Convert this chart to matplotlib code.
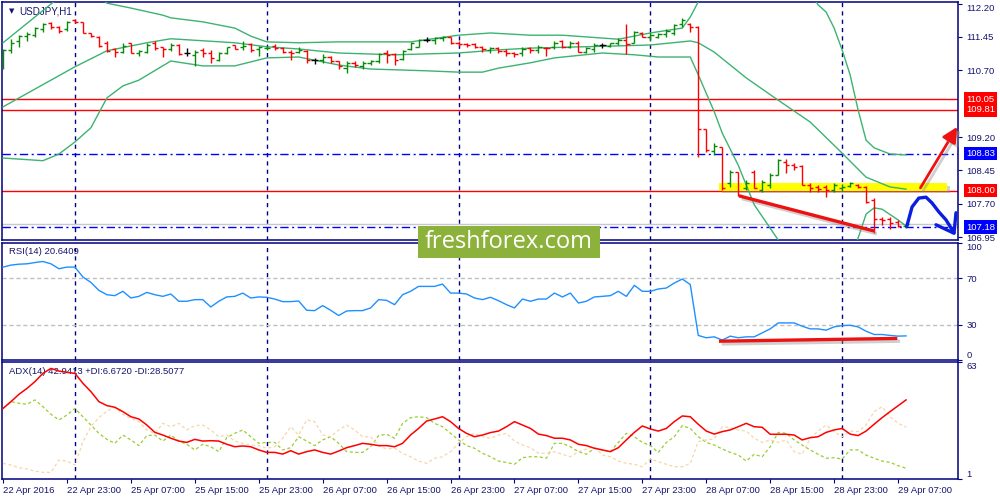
import numpy as np
import matplotlib
matplotlib.use("Agg")
import matplotlib.pyplot as plt
import matplotlib.transforms as mtransforms
import matplotlib.patheffects as pe
from matplotlib.patches import Rectangle

plt.rcParams['font.family'] = ['Liberation Sans', 'DejaVu Sans']

# ---------------- data ----------------
symbol = "USDJPY,H1"
x_label_pos = [0, 8, 16, 24, 32, 40, 48, 56, 64, 72, 80, 88, 96, 104, 112]
x_labels = ["22 Apr 2016", "22 Apr 23:00", "25 Apr 07:00", "25 Apr 15:00", "25 Apr 23:00",
            "26 Apr 07:00", "26 Apr 15:00", "26 Apr 23:00", "27 Apr 07:00", "27 Apr 15:00",
            "27 Apr 23:00", "28 Apr 07:00", "28 Apr 15:00", "28 Apr 23:00", "29 Apr 07:00"]
day_starts = [9, 33, 57, 81, 105]

opens = [111.01, 111.16, 111.35, 111.47, 111.50, 111.64, 111.77, 111.68, 111.62, 111.83,
         111.78, 111.55, 111.46, 111.32, 111.17, 111.12, 111.31, 111.10, 111.12, 111.31,
         111.22, 111.17, 111.27, 111.10, 111.05, 111.16, 111.10, 110.93, 111.08, 111.26,
         111.22, 111.29, 111.17, 111.20, 111.25, 111.20, 111.12, 111.12, 111.14, 110.93,
         110.93, 111.01, 110.90, 110.75, 110.87, 110.80, 110.86, 110.90, 111.08, 111.07,
         110.95, 111.17, 111.23, 111.38, 111.38, 111.42, 111.44, 111.31, 111.29, 111.29,
         111.22, 111.16, 111.20, 111.14, 111.08, 111.08, 111.20, 111.16, 111.21, 111.23,
         111.35, 111.23, 111.32, 111.12, 111.17, 111.27, 111.25, 111.31, 111.38, 111.32,
         111.55, 111.46, 111.46, 111.52, 111.53, 111.74, 111.74, 111.67, 109.38, 108.89,
         108.98, 108.17, 108.42, 108.06, 108.42, 108.01, 108.12, 108.35, 108.64, 108.57,
         108.55, 108.12, 108.08, 108.08, 108.01, 108.06, 108.10, 108.12, 108.08, 107.79,
         107.36, 107.36, 107.29, 107.21]
highs = [111.17, 111.40, 111.50, 111.57, 111.67, 111.77, 111.79, 111.70, 111.82, 111.85,
         111.79, 111.55, 111.47, 111.35, 111.20, 111.31, 111.32, 111.16, 111.31, 111.35,
         111.23, 111.31, 111.29, 111.20, 111.16, 111.20, 111.16, 111.12, 111.23, 111.27,
         111.35, 111.31, 111.25, 111.25, 111.29, 111.23, 111.16, 111.23, 111.16, 110.97,
         111.07, 111.02, 110.92, 110.90, 110.90, 110.90, 110.93, 111.08, 111.16, 111.08,
         111.16, 111.33, 111.40, 111.44, 111.44, 111.47, 111.46, 111.35, 111.31, 111.31,
         111.25, 111.22, 111.22, 111.17, 111.12, 111.23, 111.22, 111.27, 111.22, 111.35,
         111.38, 111.35, 111.35, 111.23, 111.31, 111.32, 111.32, 111.42, 111.74, 111.59,
         111.57, 111.57, 111.55, 111.62, 111.74, 111.87, 111.77, 111.70, 109.38, 109.07,
         108.98, 108.46, 108.42, 108.24, 108.46, 108.24, 108.39, 108.71, 108.71, 108.62,
         108.57, 108.17, 108.12, 108.12, 108.17, 108.15, 108.19, 108.15, 108.10, 107.83,
         107.41, 107.41, 107.34, 107.27]
lows = [110.72, 111.10, 111.23, 111.37, 111.44, 111.57, 111.64, 111.53, 111.59, 111.77,
        111.53, 111.46, 111.23, 111.12, 111.01, 111.10, 111.08, 111.02, 111.08, 111.16,
        111.01, 111.14, 111.05, 111.02, 110.80, 110.99, 110.86, 110.92, 111.07, 111.17,
        111.16, 111.12, 111.02, 111.16, 111.16, 111.10, 110.93, 111.10, 110.86, 110.84,
        110.87, 110.87, 110.72, 110.65, 110.77, 110.72, 110.82, 110.87, 110.86, 110.82,
        110.93, 111.16, 111.22, 111.34, 111.29, 111.37, 111.29, 111.25, 111.23, 111.20,
        111.12, 111.10, 111.10, 111.02, 111.01, 111.02, 111.10, 111.08, 111.02, 111.17,
        111.20, 111.20, 111.12, 111.08, 111.12, 111.20, 111.22, 111.27, 111.07, 111.31,
        111.44, 111.37, 111.42, 111.46, 111.50, 111.68, 111.57, 108.75, 108.87, 108.80,
        108.01, 108.08, 107.88, 108.01, 108.06, 107.97, 108.06, 108.35, 108.39, 108.46,
        108.12, 107.97, 107.97, 107.85, 107.97, 107.99, 108.08, 108.06, 107.72, 107.05,
        107.23, 107.14, 107.18, 107.16]
closes = [111.16, 111.31, 111.47, 111.52, 111.65, 111.74, 111.68, 111.59, 111.79, 111.78,
          111.55, 111.47, 111.25, 111.14, 111.12, 111.25, 111.10, 111.14, 111.27, 111.20,
          111.17, 111.27, 111.07, 111.10, 111.12, 111.08, 110.97, 111.08, 111.22, 111.19,
          111.25, 111.16, 111.22, 111.21, 111.20, 111.12, 111.10, 111.16, 110.93, 110.93,
          111.01, 110.90, 110.80, 110.86, 110.82, 110.86, 110.91, 111.07, 111.05, 110.93,
          111.14, 111.31, 111.38, 111.38, 111.42, 111.44, 111.31, 111.29, 111.27, 111.22,
          111.17, 111.20, 111.14, 111.08, 111.07, 111.17, 111.16, 111.22, 111.20, 111.31,
          111.23, 111.31, 111.12, 111.20, 111.27, 111.27, 111.31, 111.38, 111.29, 111.57,
          111.46, 111.50, 111.52, 111.59, 111.72, 111.83, 111.68, 109.38, 108.90, 109.00,
          108.06, 108.42, 107.90, 108.17, 108.06, 108.19, 108.35, 108.69, 108.57, 108.53,
          108.12, 108.06, 108.03, 108.01, 108.12, 108.08, 108.17, 108.08, 107.74, 107.36,
          107.34, 107.27, 107.21, 107.24]

# Bollinger bands (20) read at selected bars
bb_upper_x = [0, 2, 4, 6, 7, 9, 11, 13, 16, 20, 21, 25, 29, 31, 33, 37, 42, 45, 51, 57, 61, 66, 70,
              77, 81, 85, 86, 87, 88, 90, 93, 97, 100, 101, 102, 103, 104, 105, 106, 107, 108, 109,
              110, 111, 113]
bb_upper = [111.32, 111.61, 111.90, 112.19, 112.33, 112.47, 112.50, 112.21, 112.10, 111.94, 111.88,
            111.79, 111.65, 111.47, 111.34, 111.32, 111.34, 111.34, 111.34, 111.49, 111.54, 111.49,
            111.49, 111.40, 111.54, 111.65, 111.90, 112.24, 112.60, 112.75, 113.00, 113.15, 112.80,
            112.45, 112.17, 112.01, 111.65, 111.16, 110.60, 109.81, 109.13, 108.96, 108.89, 108.82,
            108.80]
bb_mid_x = [0, 9, 13, 18, 21, 29, 33, 37, 42, 49, 57, 62, 66, 77, 81, 86, 87, 89, 93, 97, 101, 105,
            108, 111, 113]
bb_mid = [109.88, 110.78, 111.14, 111.32, 111.41, 111.32, 111.23, 111.18, 111.09, 111.05, 111.09,
          111.16, 111.20, 111.25, 111.27, 111.36, 111.32, 111.11, 110.53, 110.03, 109.54, 108.84,
          108.30, 108.08, 108.03]
bb_low_x = [0, 5, 7, 9, 11, 13, 15, 17, 21, 25, 29, 33, 37, 42, 46, 53, 57, 60, 62, 66, 69, 75, 79,
            82, 86, 87, 89, 90, 92, 94, 97, 99, 101, 103, 105, 106, 107, 108, 109, 110, 112, 113]
bb_low = [108.73, 108.67, 108.82, 109.09, 109.41, 110.08, 110.35, 110.48, 110.91, 110.80, 110.80,
          110.98, 111.00, 110.82, 110.73, 110.69, 110.66, 110.66, 110.75, 110.87, 110.98, 111.09,
          111.05, 111.00, 111.00, 110.60, 109.77, 109.29, 108.57, 107.68, 106.89, 106.40, 106.20,
          106.10, 106.20, 106.44, 106.93, 107.47, 107.61, 107.58, 107.34, 107.20]

rsi = [79.4, 81.1, 81.9, 82.2, 83.3, 84.2, 82.2, 78.0, 79.4, 79.4,
       70.9, 66.3, 59.5, 55.8, 55.0, 58.7, 53.0, 54.4, 57.8, 55.8,
       54.4, 56.4, 50.2, 50.2, 51.6, 51.6, 45.3, 50.2, 53.9, 54.4,
       57.2, 53.0, 53.9, 53.6, 52.1, 49.9, 49.9, 50.4, 42.5, 42.2,
       46.5, 42.5, 38.0, 41.9, 42.2, 42.2, 44.5, 51.6, 51.0, 47.3,
       55.8, 58.7, 62.9, 62.9, 62.9, 64.9, 57.2, 57.2, 56.4, 53.0,
       51.6, 53.6, 50.7, 47.3, 44.5, 52.1, 50.2, 52.1, 52.1, 57.2,
       53.9, 57.2, 48.7, 50.2, 53.9, 54.4, 55.0, 58.7, 54.4, 63.8,
       58.7, 58.7, 60.7, 61.5, 65.8, 69.2, 64.5, 21.0, 19.0, 19.8,
       17.0, 20.4, 19.0, 19.8, 19.8, 23.2, 26.6, 31.7, 31.7, 31.7,
       28.9, 26.6, 26.6, 25.5, 28.3, 29.4, 29.7, 28.3, 24.6, 21.8,
       21.8, 21.0, 20.4, 20.6]

adx = [38.4, 42.0, 45.9, 49.0, 52.6, 57.0, 59.6, 58.2, 57.5, 57.0,
       51.7, 47.3, 42.0, 39.9, 39.0, 36.7, 34.0, 32.8, 29.6, 25.7,
       24.3, 22.6, 21.1, 20.4, 22.0, 21.1, 21.3, 21.1, 19.4, 18.1,
       18.5, 18.1, 16.4, 15.1, 15.1, 14.2, 16.0, 14.2, 15.5, 16.4,
       15.1, 14.2, 15.8, 17.6, 18.7, 19.9, 19.4, 18.7, 18.7, 18.1,
       19.9, 24.3, 27.8, 31.7, 32.8, 34.0, 31.4, 27.8, 25.2, 23.4,
       24.3, 25.6, 26.4, 28.7, 31.4, 29.6, 27.8, 24.8, 24.0, 22.6,
       22.6, 21.7, 19.4, 18.7, 17.3, 16.4, 15.5, 17.6, 21.7, 25.7,
       29.1, 27.5, 26.4, 27.8, 31.4, 34.4, 34.0, 30.0, 26.4, 24.8,
       26.1, 27.0, 28.7, 30.5, 28.7, 28.4, 24.7, 24.7, 24.7, 24.3,
       21.7, 22.9, 23.4, 25.7, 27.0, 27.8, 24.8, 24.0, 26.4, 30.0,
       33.5, 36.7, 39.8, 42.9]
plus_di = [38.4, 42.0, 41.1, 40.6, 42.9, 39.3, 35.3, 32.3, 34.9, 38.4,
           34.0, 29.6, 25.2, 22.0, 19.9, 24.3, 21.7, 18.7, 24.0, 24.3,
           21.1, 24.3, 21.1, 19.4, 16.4, 19.4, 18.1, 15.5, 22.9, 25.2,
           27.0, 23.4, 19.9, 20.4, 20.4, 16.4, 17.6, 23.4, 21.1, 18.7,
           21.7, 23.4, 19.9, 15.5, 15.1, 15.1, 18.1, 24.0, 24.7, 22.6,
           30.5, 33.5, 34.0, 33.5, 30.5, 28.7, 25.2, 21.7, 18.7, 17.3,
           14.6, 12.8, 10.5, 9.8, 8.8, 12.3, 12.8, 12.8, 12.0, 19.9,
           19.9, 18.1, 15.5, 14.1, 17.3, 16.4, 15.5, 20.4, 25.2, 23.4,
           20.4, 18.7, 15.1, 20.4, 23.4, 29.3, 27.8, 23.4, 20.4, 19.0,
           16.9, 15.1, 13.7, 10.5, 14.1, 12.8, 18.1, 25.7, 25.2, 21.7,
           19.0, 16.4, 14.1, 12.0, 12.3, 11.6, 16.4, 16.4, 13.7, 12.0,
           10.5, 9.8, 8.1, 6.7]
minus_di = [9.3, 8.4, 7.0, 6.3, 5.2, 4.5, 4.5, 11.1, 10.5, 8.4,
            20.8, 28.7, 33.5, 37.0, 38.8, 35.3, 33.1, 31.4, 27.0, 25.2,
            30.5, 28.7, 30.5, 27.0, 29.3, 29.6, 27.0, 23.4, 24.3, 21.1,
            19.9, 19.0, 18.7, 17.3, 18.1, 22.6, 28.7, 24.3, 32.3, 31.4,
            24.3, 23.4, 27.0, 29.6, 27.0, 23.4, 23.4, 18.7, 16.9, 17.3,
            14.6, 12.8, 10.5, 9.3, 12.0, 12.8, 15.5, 19.9, 23.4, 25.2,
            23.4, 22.6, 24.3, 25.2, 21.1, 19.0, 17.6, 14.6, 14.6, 15.5,
            14.1, 12.8, 15.5, 16.9, 18.1, 13.7, 12.8, 10.5, 9.3, 8.8,
            7.5, 11.6, 10.2, 8.8, 7.5, 7.5, 9.3, 20.8, 21.7, 22.2,
            28.7, 28.2, 27.0, 26.4, 22.6, 20.4, 21.7, 20.4, 21.7, 15.5,
            14.1, 22.6, 26.4, 29.6, 26.1, 23.4, 26.4, 26.1, 29.6, 36.7,
            39.3, 34.0, 30.5, 28.5]

price_ticks = [112.20, 111.45, 110.70, 109.20, 108.45, 107.70, 106.95]
red_levels = [110.05, 109.81, 108.00]
blue_levels = [108.83, 107.18]
bid_price = 107.24

# annotations (bar index, value)
zone_x = [89.6, 118.1]
zone_y = [108.00, 108.16]
trend_x = [92.1, 109.0]
trend_y = [107.88, 107.09]
up_arrow_x = [114.8, 119.4]
up_arrow_y = [108.06, 109.43]
hand_x = [113.1, 113.75, 114.6, 115.5, 116.25, 117.1, 118.0, 119.0]
hand_y = [107.20, 107.63, 107.83, 107.85, 107.72, 107.52, 107.34, 107.05]
hand_head_x = [116.75, 119.0, 119.25]
hand_head_y = [107.23, 107.04, 107.50]
rsi_line_x = [89.8, 111.7]
rsi_line_y = [16.1, 18.4]

# ---------------- style ----------------
NAVY = '#000080'
TXT = '#14146e'
FS = 6.8
W, H = 1000, 500


def rect(l, t, r, b):
    return [l / W, 1 - b / H, (r - l) / W, (b - t) / H]


fig = plt.figure(figsize=(10, 5), dpi=100)
fig.patch.set_facecolor('white')
ax = fig.add_axes(rect(2, 2, 958, 240))
ax_rsi = fig.add_axes(rect(2, 243, 958, 360))
ax_adx = fig.add_axes(rect(2, 362, 958, 479))

XL = (-0.125, 119.5)
for a in (ax, ax_rsi, ax_adx):
    a.set_xlim(*XL)
    for s in a.spines.values():
        s.set_color(NAVY)
        s.set_linewidth(1.1)
    a.yaxis.tick_right()
    a.tick_params(axis='y', colors=NAVY, labelcolor=TXT, labelsize=FS, length=3, width=0.8, pad=3)
    a.tick_params(axis='x', colors=NAVY, labelcolor=TXT, labelsize=FS, length=3, width=0.8, pad=2)
    for d in day_starts:
        a.axvline(d, color=NAVY, lw=1.0, ls=(0, (3, 3)), zorder=1)

ax.set_xticks([])
ax_rsi.set_xticks([])

# ---------------- main chart ----------------
ax.set_ylim(106.888, 112.236)
x = np.arange(len(opens))
o = np.array(opens); h = np.array(highs); l = np.array(lows); c = np.array(closes)
cols = np.where(c > o, '#0a8a0a', np.where(c < o, '#ff0000', '#000000'))
ax.vlines(x, l, h, colors=cols, lw=1.0, zorder=5)
ax.hlines(o, x - 0.4, x, colors=cols, lw=1.0, zorder=5)
ax.hlines(c, x, x + 0.4, colors=cols, lw=1.0, zorder=5)

bb_col = '#3cb371'
ax.plot(bb_upper_x, bb_upper, color=bb_col, lw=1.0, zorder=4)
ax.plot(bb_mid_x, bb_mid, color=bb_col, lw=1.0, zorder=4)
ax.plot(bb_low_x, bb_low, color=bb_col, lw=1.0, zorder=4)

for lv in red_levels:
    ax.axhline(lv, color='#ff0000', lw=1.0, zorder=2)
for lv in blue_levels:
    ax.axhline(lv, color='#0000ff', lw=1.0, ls=(0, (6, 2.5, 1.5, 2.5)), zorder=2)
ax.axhline(bid_price, color='#c8c8c8', lw=1.0, zorder=2)

zone = Rectangle((zone_x[0], zone_y[0]), zone_x[1] - zone_x[0], zone_y[1] - zone_y[0],
                 facecolor='#ffff00', edgecolor='none', zorder=3, clip_on=False,
                 path_effects=[pe.SimplePatchShadow(offset=(2, -2), shadow_rgbFace='#999999', alpha=0.45),
                               pe.Normal()])
ax.add_patch(zone)

shadow = [pe.SimpleLineShadow(offset=(2, -2), shadow_color='#888888', alpha=0.4), pe.Normal()]
ax.plot(trend_x, trend_y, color='#ee1111', lw=2.4, solid_capstyle='butt', zorder=6, path_effects=shadow)

ann = ax.annotate('', xy=(up_arrow_x[1], up_arrow_y[1]), xytext=(up_arrow_x[0], up_arrow_y[0]),
                  arrowprops=dict(arrowstyle='-|>,head_length=0.9,head_width=0.45', color='#ee1111', lw=2.0,
                                  shrinkA=0, shrinkB=0, path_effects=shadow),
                  annotation_clip=False, zorder=7)
ann.arrow_patch.set_clip_on(False)

ax.plot(hand_x, hand_y, color='#0a1ee0', lw=2.4, solid_capstyle='round', solid_joinstyle='round',
        zorder=7, clip_on=False)
ax.plot(hand_head_x, hand_head_y, color='#0a1ee0', lw=2.4, solid_capstyle='round',
        solid_joinstyle='round', zorder=7, clip_on=False)

ax.set_yticks(price_ticks)
ax.set_yticklabels([f"{v:.2f}" for v in price_ticks])

blend = mtransforms.blended_transform_factory(ax.transAxes, ax.transData)
for lv in red_levels:
    ax.text(1.0085, lv, f"{lv:.2f}", transform=blend, color='white', fontsize=FS, va='center', ha='left',
            bbox=dict(boxstyle='square,pad=0.25', facecolor='#ff0000', edgecolor='none'), zorder=10, clip_on=False)
for lv in blue_levels:
    ax.text(1.0085, lv, f"{lv:.2f}", transform=blend, color='white', fontsize=FS, va='center', ha='left',
            bbox=dict(boxstyle='square,pad=0.25', facecolor='#0000ff', edgecolor='none'), zorder=10, clip_on=False)

ax.text(7 / 956, 1 - 9 / 238, '\u25bc', transform=ax.transAxes, fontsize=5, color=TXT,
        va='center', ha='left', family='DejaVu Sans')
ax.text(17 / 956, 1 - 9 / 238, symbol, transform=ax.transAxes, fontsize=FS + 0.3, color=TXT,
        va='center', ha='left')

# ---------------- RSI ----------------
ax_rsi.set_ylim(0, 100)
ax_rsi.plot(x, rsi, color='#1e90ff', lw=1.0, zorder=4)
for lv in (30, 70):
    ax_rsi.axhline(lv, color='#c0c0c0', lw=1.0, ls=(0, (3, 2)), zorder=2)
ax_rsi.plot(rsi_line_x, rsi_line_y, color='#ee1111', lw=2.4, zorder=5, path_effects=shadow)
ax_rsi.set_yticks([0, 30, 70, 100])
ax_rsi.set_yticklabels(['0', '30', '70', '100'])
ax_rsi.text(7 / 956, 1 - 9 / 117, "RSI(14) 20.6409", transform=ax_rsi.transAxes,
            fontsize=FS, color=TXT, va='center', ha='left')

# ---------------- ADX ----------------
ax_adx.set_ylim(1, 63)
ax_adx.plot(x, plus_di, color='#9acd32', lw=0.9, ls=(0, (2.5, 2)), zorder=3)
ax_adx.plot(x, minus_di, color='#f5d7a8', lw=0.9, ls=(0, (2.5, 2)), zorder=3)
ax_adx.plot(x, adx, color='#ff0000', lw=1.1, zorder=4)
ax_adx.set_yticks([1, 63])
ax_adx.set_yticklabels(['1', '63'])
ax_adx.text(7 / 956, 1 - 9 / 117, "ADX(14) 42.9413 +DI:6.6720 -DI:28.5077", transform=ax_adx.transAxes,
            fontsize=FS, color=TXT, va='center', ha='left')
ax_adx.set_xticks(x_label_pos)
ax_adx.set_xticklabels(x_labels)

# edge label alignment (like the terminal, keep end labels inside)
fig.canvas.draw()
for a, top_i, bot_i in ((ax, 0, None), (ax_rsi, 3, 0), (ax_adx, 1, 0)):
    labs = a.get_yticklabels()
    if top_i is not None:
        labs[top_i].set_va('top')
    if bot_i is not None:
        labs[bot_i].set_va('bottom')
for lab in ax_adx.get_xticklabels():
    lab.set_ha('left')

# ---------------- watermark ----------------
fig.add_artist(Rectangle((418 / W, 1 - 258 / H), 182 / W, 32 / H, transform=fig.transFigure,
                         facecolor='#8db23c', edgecolor='none', zorder=20))
fig.text(509 / W, 1 - 242.5 / H, 'freshforex.com', color='white', ha='center', va='center',
         fontsize=17, family=['Open Sans', 'DejaVu Sans'], zorder=21)

fig.savefig('out.png', dpi=100, facecolor='white')
